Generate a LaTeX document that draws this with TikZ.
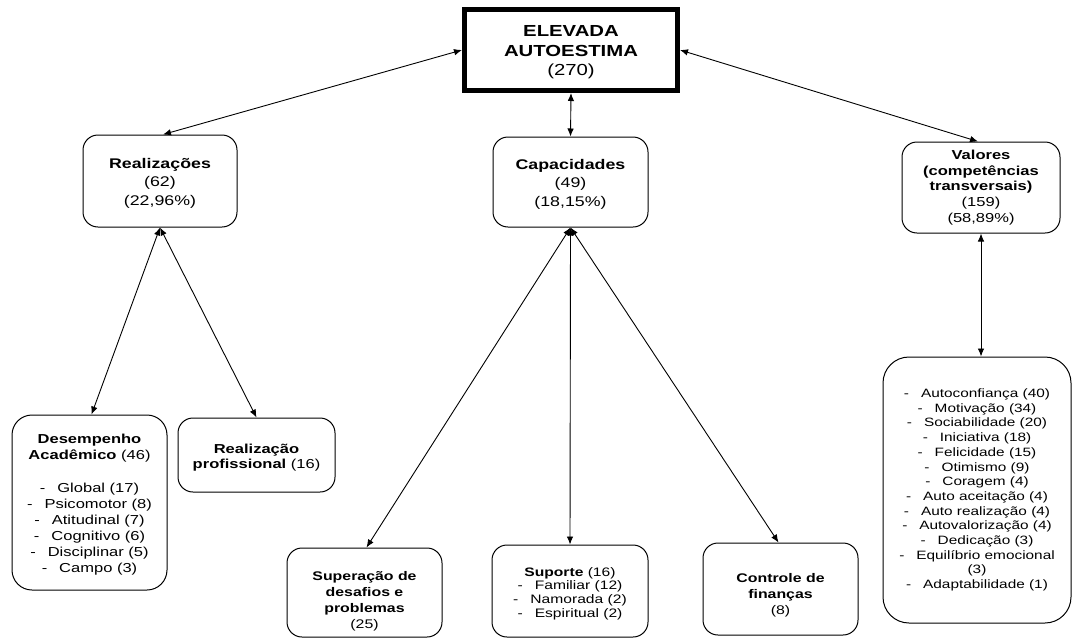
\documentclass[tikz,border=0pt]{standalone}
\usepackage{fontspec}
\setmainfont{Liberation Sans}[FakeStretch=1.27]
\usetikzlibrary{arrows.meta}

% category boxes and the double-headed links between them
\tikzset{
  box/.style={draw, line width=1pt, rounded corners=15pt, align=center,
              inner sep=0pt, font=\fontsize{13}{15.6}\selectfont},
  headbox/.style={box, font=\fontsize{14}{18.5}\selectfont},
  rootbox/.style={draw, line width=5pt, align=center, inner sep=0pt,
              font=\fontsize{16}{19.5}\selectfont},
  link/.style={line width=0.9pt, {Latex[length=8pt,width=6.5pt]}-{Latex[length=8pt,width=6.5pt]}},
}
\newcommand{\itm}[1]{-\hspace{12pt}#1}
% extra room above the first line, pushes a box's text a little lower
\newcommand{\toppad}[1]{\rule{0pt}{#1}}

\begin{document}
\begin{tikzpicture}[x=1pt,y=-1pt]
\useasboundingbox (0,0) rectangle (1073,640);

% root
\node[rootbox, minimum width=213pt, minimum height=81pt] (root) at (571,50)
  {\toppad{16pt}\textbf{ELEVADA}\\\textbf{AUTOESTIMA}\\(270)};

% second level
\node[headbox, minimum width=154pt, minimum height=92pt] (real) at (160,181)
  {\toppad{14pt}\textbf{Realizações}\\(62)\\(22,96\%)};
\node[headbox, minimum width=155pt, minimum height=90pt] (cap) at (570.5,182)
  {\toppad{14pt}\textbf{Capacidades}\\(49)\\(18,15\%)};
\node[box, minimum width=158pt, minimum height=91pt] (val) at (981,187.5)
  {\textbf{Valores}\\\textbf{(competências}\\\textbf{transversais)}\\(159)\\(58,89\%)};

% under Realizações
\node[box, rounded corners=20pt, font=\fontsize{13}{16.1}\selectfont,
      minimum width=155pt, minimum height=175pt] (desemp) at (89.5,502.5)
  {\toppad{14pt}\textbf{Desempenho}\\\textbf{Acadêmico} (46)\\[16pt]
   \itm{Global (17)}\\\itm{Psicomotor (8)}\\\itm{Atitudinal (7)}\\
   \itm{Cognitivo (6)}\\\itm{Disciplinar (5)}\\\itm{Campo (3)}};
\node[box, minimum width=157pt, minimum height=74pt] (prof) at (256.5,455)
  {\toppad{15pt}\textbf{Realização}\\\textbf{profissional} (16)};

% under Capacidades
\node[box, font=\fontsize{12.5}{16}\selectfont, minimum width=155pt, minimum height=89pt] (super) at (364.5,592.5)
  {\toppad{26pt}\textbf{Superação de}\\\textbf{desafios e}\\\textbf{problemas}\\(25)};
\node[box, font=\fontsize{12.3}{13.6}\selectfont, minimum width=156pt, minimum height=92pt] (sup) at (570,591)
  {\toppad{14pt}\textbf{Suporte} (16)\\\itm{Familiar (12)}\\\itm{Namorada (2)}\\\itm{Espiritual (2)}};
\node[box, font=\fontsize{12.5}{16}\selectfont, minimum width=155pt, minimum height=92pt] (fin) at (780.5,589)
  {\toppad{22pt}\textbf{Controle de}\\\textbf{finanças}\\(8)};

% under Valores
\node[box, rounded corners=26pt, font=\fontsize{12.1}{14.7}\selectfont,
      minimum width=188pt, minimum height=266pt] (vlist) at (977,490)
  {\itm{Autoconfiança (40)}\\\itm{Motivação (34)}\\\itm{Sociabilidade (20)}\\
   \itm{Iniciativa (18)}\\\itm{Felicidade (15)}\\\itm{Otimismo (9)}\\
   \itm{Coragem (4)}\\\itm{Auto aceitação (4)}\\\itm{Auto realização (4)}\\
   \itm{Autovalorização (4)}\\\itm{Dedicação (3)}\\\itm{Equilíbrio emocional}\\
   (3)\\\itm{Adaptabilidade (1)}};

% links
\draw[link] (root.west) -- ([xshift=3pt]real.north);
\draw[link] (root.south) -- (cap.north);
\draw[link] (root.east) -- ([xshift=-3pt]val.north);
\draw[link] (real.south) -- ([xshift=2pt]desemp.north);
\draw[link] (real.south) -- (prof.north);
\draw[link] (cap.south) -- ([xshift=2pt]super.north);
\draw[link] (cap.south) -- (sup.north);
\draw[link] (cap.south) -- ([xshift=-2pt]fin.north);
\draw[link] (val.south) -- (val.south |- vlist.north);
\end{tikzpicture}
\end{document}
